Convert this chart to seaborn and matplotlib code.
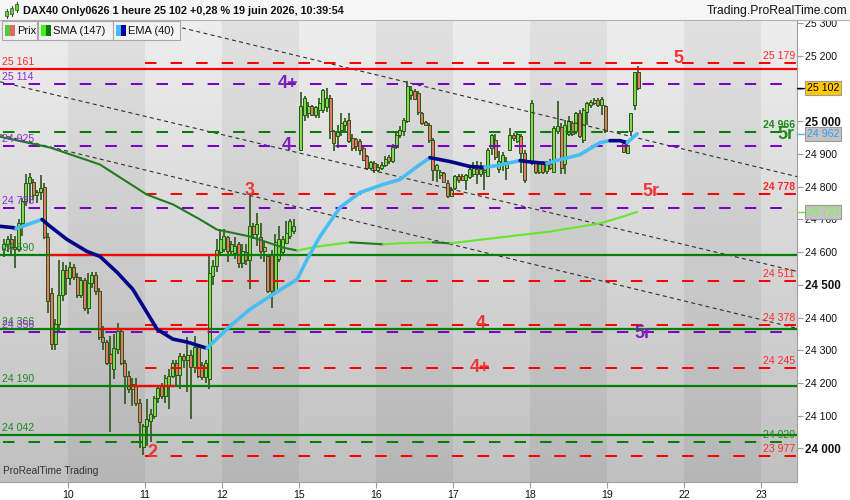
import numpy as np
import matplotlib
matplotlib.use("Agg")
import matplotlib.pyplot as plt
import matplotlib.transforms as mtransforms
from matplotlib.patches import Rectangle
from matplotlib.lines import Line2D
from matplotlib.colors import LinearSegmentedColormap
import seaborn as sns

sns.set_theme(style="white")
plt.rcParams['font.family'] = ['Liberation Sans', 'DejaVu Sans']

# ---------------- data ----------------
day_labels = ["9", "10", "11", "12", "15", "16", "17", "18", "19", "22", "23"]
bars_per_day = [18, 21, 21, 20, 21, 21, 20, 21, 5]
first_hour_slot = [3, 0, 0, 0, 0, 0, 0, 0, 4]
SLOTS_PER_DAY = 21

open_ = [
    # 9
    24610, 24625, 24640, 24615, 24610, 24690, 24755, 24810, 24815, 24775, 24785, 24800, 24645, 24476, 24320, 24380, 24470, 24545,
    # 10
    24520, 24555, 24525, 24470, 24515, 24430, 24505, 24530, 24480, 24340, 24325, 24290, 24242, 24303, 24359, 24262, 24222, 24181, 24191, 24140, 24005,
    # 11
    24069, 24085, 24100, 24155, 24190, 24160, 24195, 24222, 24262, 24225, 24283, 24270, 24285, 24250, 24310, 24255, 24217, 24211, 24527, 24557, 24600,
    # 12
    24610, 24645, 24603, 24598, 24624, 24568, 24600, 24575, 24680, 24655, 24645, 24603, 24588, 24590, 24480, 24578, 24600, 24629, 24650, 24665,
    # 15
    24913, 25020, 25025, 25046, 25020, 25035, 25035, 25045, 25070, 24969, 24955, 24975, 24990, 25005, 24950, 24945, 24940, 24918, 24893, 24857, 24873,
    # 16
    24852, 24858, 24865, 24890, 24880, 24923, 24959, 24970, 25000, 25080, 25092, 25086, 25025, 24998, 24990, 24944, 24852, 24835, 24842, 24812, 24771,
    # 17
    24796, 24832, 24832, 24822, 24830, 24840, 24855, 24840, 24852, 24832, 24918, 24944, 24855, 24873, 24858, 24913, 24959, 24940, 24954, 24903,
    # 18
    24873, 24873, 24845, 24873, 24848, 24870, 24846, 24970, 24984, 24870, 24960, 24995, 24969, 25025, 24944, 25030, 25050, 25056, 25066, 25050, 25046,
    # 19
    24934, 24903, 24969, 25051, 25152,
]
high = [
    24640, 24650, 24655, 24650, 24700, 24765, 24838, 24843, 24825, 24790, 24835, 24810, 24660, 24490, 24395, 24575, 24570, 24560,
    24570, 24565, 24535, 24525, 24520, 24535, 24540, 24540, 24490, 24375, 24330, 24345, 24349, 24382, 24365, 24270, 24235, 24215, 24215, 24150, 24075,
    24150, 24120, 24160, 24190, 24200, 24225, 24242, 24270, 24270, 24292, 24290, 24339, 24300, 24345, 24315, 24265, 24270, 24588, 24575, 24640, 24670,
    24670, 24650, 24635, 24645, 24630, 24625, 24625, 24772, 24690, 24720, 24690, 24630, 24595, 24608, 24655, 24680, 24650, 24695, 24700, 24702,
    25091, 25078, 25060, 25050, 25048, 25070, 25100, 25102, 25080, 24975, 24990, 25025, 25010, 25025, 24960, 24950, 24945, 24924, 24898, 24880, 24878,
    24870, 24875, 24895, 24898, 24930, 24965, 24985, 25010, 25122, 25108, 25098, 25092, 25030, 25000, 24995, 24950, 24870, 24850, 24845, 24820, 24800,
    24835, 24838, 24838, 24840, 24860, 24875, 24880, 24875, 24855, 24918, 24960, 24960, 24910, 24905, 24892, 24980, 24965, 24970, 24960, 24912,
    25065, 24880, 24880, 24878, 24880, 24885, 24985, 25061, 24995, 25005, 25015, 25000, 25030, 25035, 25040, 25060, 25065, 25070, 25070, 25075, 25050,
    24936, 24930, 25025, 25152, 25168,
]
low = [
    24585, 24600, 24595, 24553, 24600, 24650, 24740, 24750, 24760, 24750, 24760, 24640, 24415, 24300, 24300, 24360, 24450, 24470,
    24500, 24515, 24460, 24460, 24420, 24410, 24490, 24470, 24330, 24300, 24255, 24049, 24211, 24290, 24255, 24135, 24170, 24130, 24130, 24000, 23980,
    24008, 24018, 24090, 24140, 24150, 24140, 24120, 24215, 24190, 24180, 24245, 24171, 24089, 24230, 24215, 24210, 24200, 24181, 24500, 24540, 24590,
    24600, 24570, 24590, 24580, 24550, 24550, 24560, 24486, 24640, 24620, 24580, 24570, 24475, 24430, 24470, 24570, 24590, 24625, 24640, 24655,
    24908, 25000, 25010, 25015, 25010, 25010, 25025, 25030, 24945, 24908, 24920, 24954, 24970, 24935, 24910, 24908, 24898, 24880, 24852, 24850, 24842,
    24845, 24850, 24860, 24870, 24872, 24915, 24950, 24955, 24995, 25066, 25065, 25020, 24990, 24985, 24934, 24817, 24815, 24825, 24810, 24766, 24768,
    24790, 24810, 24820, 24790, 24825, 24830, 24808, 24830, 24791, 24832, 24898, 24883, 24842, 24848, 24820, 24908, 24940, 24935, 24842, 24812,
    24868, 24840, 24838, 24840, 24838, 24850, 24842, 24960, 24838, 24838, 24955, 24955, 24960, 24950, 24935, 24990, 25040, 25050, 25045, 25020, 24965,
    24903, 24900, 24954, 25035, 25095,
]
close = [
    24625, 24640, 24615, 24610, 24690, 24755, 24810, 24830, 24775, 24785, 24795, 24645, 24450, 24320, 24380, 24470, 24545, 24520,
    24555, 24525, 24470, 24515, 24430, 24505, 24530, 24480, 24340, 24325, 24262, 24262, 24308, 24359, 24262, 24222, 24181, 24196, 24140, 24079, 24069,
    24089, 24105, 24155, 24186, 24160, 24215, 24222, 24262, 24225, 24283, 24270, 24285, 24250, 24310, 24222, 24217, 24262, 24537, 24557, 24608, 24640,
    24650, 24603, 24625, 24620, 24568, 24605, 24575, 24680, 24655, 24685, 24603, 24615, 24481, 24480, 24630, 24639, 24640, 24660, 24695, 24680,
    25046, 25070, 25046, 25020, 25045, 25056, 25096, 25070, 24969, 24934, 24970, 24995, 25000, 24939, 24918, 24925, 24913, 24883, 24857, 24875, 24852,
    24860, 24868, 24885, 24880, 24923, 24959, 24975, 25005, 25107, 25096, 25068, 25030, 24995, 24990, 24944, 24852, 24865, 24845, 24815, 24771, 24791,
    24832, 24820, 24822, 24835, 24855, 24856, 24838, 24855, 24845, 24913, 24958, 24890, 24880, 24898, 24880, 24959, 24948, 24960, 24903, 24820,
    25055, 24845, 24873, 24845, 24870, 24858, 24979, 24985, 24857, 24990, 25000, 24960, 25025, 24954, 25035, 25055, 25060, 25066, 25050, 25068, 24969,
    24905, 24929, 25025, 25152, 25102,
]

# EMA(40) and SMA(147) (time in hourly slots)
ema_t = [2.45, 6.0, 6.8, 13.9, 16.1, 20.7, 26.2, 29.7, 34.4, 38.7, 42.5, 45.3, 49.6, 53.5, 58.9, 65.2,
         70.6, 76.9, 83.5, 86.2, 89.7, 95.2, 100.6, 106.9, 111.5, 116.2, 119.7, 125.2, 130.6, 134.7,
         138.0, 144.3, 146.2, 151.6, 155.2, 160.6, 166.1, 168.8, 171.5, 173.5, 176.2]
ema_v = [24679, 24675, 24672, 24700, 24679, 24639, 24602, 24587, 24538, 24486, 24416, 24364, 24334, 24325, 24306, 24374,
         24425, 24471, 24517, 24578, 24648, 24737, 24782, 24807, 24822, 24862, 24889, 24877, 24862, 24859,
         24865, 24880, 24877, 24871, 24883, 24898, 24935, 24941, 24941, 24935, 24962]
sma_t = [2.45, 16.1, 29.7, 42.5, 49.6, 57.0, 61.6, 70.6, 79.6, 83.5, 88.9, 97.9, 106.9, 111.5, 120.5,
         125.2, 138.8, 152.5, 166.1, 171.5, 176.2]
sma_v = [24953, 24920, 24868, 24776, 24746, 24700, 24669, 24648, 24614, 24605, 24617, 24630, 24624, 24627, 24630,
         24627, 24645, 24663, 24688, 24706, 24723]

# horizontal levels
solid_levels = [25161, 24590, 24366, 24190, 24042]
solid_base = ["red", "green", "green", "green", "green"]
solid_red_from = [None, 16.1, 29.7, 37.9, None]
solid_red_to = [None, 61.9, 59.7, 50.2, None]

dash_levels = [25179, 25114, 24966, 24925, 24778, 24735, 24511, 24378, 24356, 24245, 24020, 23977]
dash_kind = ["red", "purple", "green", "purple", "red", "purple", "red", "red", "purple", "red", "green", "red"]

left_labels = [25161, 25114, 24925, 24735, 24590, 24366, 24356, 24190, 24042]
left_kind = ["red", "purple", "purple", "purple", "green", "green", "purple", "green", "green"]
right_labels = [25179, 24966, 24778, 24511, 24378, 24245, 24020, 23977]
right_kind = ["red", "green", "red", "red", "red", "red", "green", "red"]
right_bold = [False, True, True, False, False, False, False, False]

# trend channel lines (time slot, price)
trend_t0 = [52.1, 2.45, 2.45]
trend_p0 = [25286, 25121, 24959]
trend_t1 = [219.8, 219.8, 219.8]
trend_p1 = [24831, 24541, 24367]

# wave labels
wave_txt = ["5", "4+", "4", "5r", "3", "5r", "4", "5r", "4+", "2"]
wave_t = [187.4, 81.0, 80.7, 216.9, 70.6, 180.0, 133.6, 177.8, 133.4, 44.0]
wave_p = [25191, 25117, 24927, 24959, 24788, 24787, 24381, 24352, 24248, 23986]
wave_kind = ["red", "purple", "purple", "green", "red", "red", "red", "purple", "red", "red"]

last_price, ema_last, sma_last = 25102, 24962, 24723

# ---------------- style ----------------
LINE_C = {"red": "#ff0000", "green": "#008000", "purple": "#7a00c8"}
TEXT_C = {"red": "#ff2a2a", "green": "#1f8a1f", "purple": "#8a2fd0"}
WAVE_C = {"red": "#ee3535", "green": "#1f8a1f", "purple": "#7a1fc0"}
XMIN, XMAX = 2.45, 219.8
YMIN, YMAX = 23897, 25310


def fmt(v):
    return f"{int(v):,}".replace(",", " ")


fig = plt.figure(figsize=(8.5, 5), dpi=100)
fig.patch.set_facecolor("white")
ax = fig.add_axes([0, 18 / 500, 797 / 850, 462 / 500])

# background gradient + alternating day bands
grad = np.linspace(0, 1, 256).reshape(-1, 1)
cmap = LinearSegmentedColormap.from_list("bg", ["#c0c0c0", "#eeeeee"])
ax.imshow(grad, extent=[XMIN, XMAX, YMIN, YMAX], aspect="auto", cmap=cmap,
          origin="lower", zorder=0, interpolation="bilinear")
for k, d in enumerate(day_labels):
    if int(d) % 2 == 0:
        ax.axvspan(SLOTS_PER_DAY * k, SLOTS_PER_DAY * (k + 1), color="black", alpha=0.05, lw=0, zorder=0.5)

# candles
slots = []
for k, (n, f) in enumerate(zip(bars_per_day, first_hour_slot)):
    slots += [SLOTS_PER_DAY * k + f + j + 0.5 for j in range(n)]
slots = np.array(slots)
o = np.array(open_); h = np.array(high); l = np.array(low); c = np.array(close)
edge = "#2b5516"
ax.vlines(slots, l, h, color=edge, lw=1.2, zorder=3)
bottoms = np.minimum(o, c)
heights = np.maximum(np.abs(c - o), 2.5)
fills = np.where(c >= o, "#7ddc52", "#e57a6c")
ax.bar(slots, heights, bottom=bottoms, width=0.8, color=fills, edgecolor=edge, linewidth=0.7, zorder=4)

# trend lines
for t0, p0, t1, p1 in zip(trend_t0, trend_p0, trend_t1, trend_p1):
    ax.plot([t0, t1], [p0, p1], color="#303030", lw=0.8, linestyle=(0, (3.6, 3.0)), zorder=5)

# solid levels
for lv, base, rf, rt in zip(solid_levels, solid_base, solid_red_from, solid_red_to):
    ax.plot([XMIN, XMAX], [lv, lv], color=LINE_C[base], lw=1.6, zorder=5.2, solid_capstyle="butt")
    if rf is not None:
        ax.plot([rf, rt], [lv, lv], color=LINE_C["red"], lw=1.6, zorder=5.3, solid_capstyle="butt")

# dashed levels
for lv, kind in zip(dash_levels, dash_kind):
    start = SLOTS_PER_DAY * 2 if kind == "red" else XMIN + 0.8
    end = XMAX if kind == "red" else XMAX - 1.0
    ax.plot([start, end], [lv, lv], color=LINE_C[kind], lw=1.45,
            linestyle=(0, (5.7, 7.0)), zorder=5.1, dash_capstyle="butt")


# moving averages, coloured by direction
def draw_ma(t, v, up_c, down_c, lw, z):
    t = np.asarray(t); v = np.asarray(v)
    start = 0
    cur = v[1] > v[0]
    pieces = []
    for i in range(1, len(v) - 1):
        r = v[i + 1] > v[i]
        if r != cur:
            pieces.append((start, i, cur))
            start, cur = i, r
    pieces.append((start, len(v) - 1, cur))
    for a, b, up in pieces:
        sns.lineplot(x=t[a:b + 1], y=v[a:b + 1], color=up_c if up else down_c, lw=lw, ax=ax,
                     sort=False, estimator=None, legend=False, zorder=z, solid_capstyle="round")


draw_ma(sma_t, sma_v, "#66e62a", "#1e7d1e", 1.5, 6)
draw_ma(ema_t, ema_v, "#48bdf5", "#05058a", 2.6, 6.5)

# labels on levels
for lv, kind in zip(left_labels, left_kind):
    ax.annotate(fmt(lv), xy=(XMIN, lv), xytext=(1.5, 1.5), textcoords="offset points",
                ha="left", va="bottom", fontsize=7.6, color=TEXT_C[kind], zorder=7)
for lv, kind, b in zip(right_labels, right_kind, right_bold):
    ax.annotate(fmt(lv), xy=(XMAX, lv), xytext=(-1.5, 1.5), textcoords="offset points",
                ha="right", va="bottom", fontsize=7.6, color=TEXT_C[kind], zorder=7,
                fontweight="bold" if b else "normal")

for txt, t, p, kind in zip(wave_txt, wave_t, wave_p, wave_kind):
    ax.text(t, p, txt, color=WAVE_C[kind], fontsize=13, fontweight="bold",
            ha="center", va="center", zorder=8)

ax.text(0.004, 0.013, "ProRealTime Trading", transform=ax.transAxes, fontsize=7.3,
        color="#333333", ha="left", va="bottom", zorder=8)

# axes
ax.set_xlim(XMIN, XMAX)
ax.set_ylim(YMIN, YMAX)
yt = list(range(24000, 25400, 100))
ax.set_yticks(yt, labels=[fmt(v) for v in yt])
ax.yaxis.tick_right()
ax.tick_params(axis="y", right=True, left=False, length=4, width=0.8, color="#9a9a9a",
               labelsize=7.6, pad=2, labelcolor="#111111")
for lbl, v in zip(ax.get_yticklabels(), yt):
    if v % 500 == 0:
        lbl.set_fontweight("bold")
        lbl.set_fontsize(8.4)
xt = [SLOTS_PER_DAY * k for k in range(1, len(day_labels))]
ax.set_xticks(xt, labels=day_labels[1:])
ax.tick_params(axis="x", bottom=True, length=4, width=0.8, color="#9a9a9a",
               labelsize=7.6, pad=1.5, labelcolor="#111111")
for s in ["top", "left"]:
    ax.spines[s].set_visible(False)
for s in ["right", "bottom"]:
    ax.spines[s].set_color("#a0a0a0")
    ax.spines[s].set_linewidth(0.8)
ax.grid(False)

# price boxes on the axis
trans = mtransforms.blended_transform_factory(ax.transAxes, ax.transData)
for txt_v, fc, tc, lc in [(last_price, "#ffc800", "#000000", "#000000"),
                          (ema_last, "#c4c4c4", "#3a9cf0", "#48bdf5"),
                          (sma_last, "#c4c4c4", "#6cff2a", "#66e62a")]:
    ax.plot([1.0, 1.009], [txt_v, txt_v], transform=trans, color=lc, lw=1.0, clip_on=False, zorder=9)
    ax.annotate(fmt(txt_v), xy=(1.0, txt_v), xycoords=trans, xytext=(7.0, 0), textcoords="offset points",
                ha="left", va="center", fontsize=7.7, color=tc, annotation_clip=False, zorder=10,
                bbox=dict(boxstyle="square,pad=0.18", fc=fc, ec="#9a9a9a", lw=0.8))


# ---------------- header & legend ----------------
def fx(px):
    return px / 850


def fy(py):
    return 1 - py / 500


fig.add_artist(Rectangle((0, fy(20)), 1, 20 / 500, transform=fig.transFigure, fc="#f6f6f6", ec="none", zorder=1))
fig.add_artist(Line2D([0, 1], [fy(20), fy(20)], transform=fig.transFigure, color="#b0b0b0", lw=0.8, zorder=2))
# small candlestick icon
for x0, top, bot, wt, wb in [(5, 11, 16, 9, 18), (10, 8, 14, 6, 16), (15, 4, 10, 2, 12)]:
    fig.add_artist(Line2D([fx(x0 + 1.5)] * 2, [fy(wt), fy(wb)], transform=fig.transFigure,
                          color="#2b5516", lw=0.8, zorder=2))
    fig.add_artist(Rectangle((fx(x0), fy(bot)), 3 / 850, (bot - top) / 500, transform=fig.transFigure,
                             fc="#66cc44", ec="#2b5516", lw=0.5, zorder=3))
fig.text(fx(23), fy(11), "DAX40 Only0626 1 heure 25 102 +0,28 % 19 juin 2026, 10:39:54",
         fontsize=7.8, fontweight="bold", color="#111111", ha="left", va="center", zorder=3)
fig.text(fx(847), fy(11), "Trading.ProRealTime.com", fontsize=8.7, color="#111111",
         ha="right", va="center", zorder=3)

legend_items = [("Prix", 1.5, 37, "#55c83a", "#e06a62"),
                ("SMA (147)", 37.5, 112.5, "#44ee11", "#0a7a0a"),
                ("EMA (40)", 113, 180, "#44bbff", "#000099")]
for name, x0, x1, c1, c2 in legend_items:
    fig.add_artist(Rectangle((fx(x0), fy(39.5)), (x1 - x0) / 850, 18 / 500, transform=fig.transFigure,
                             fc="#f3f3f3", ec="#a8a8a8", lw=0.8, zorder=4))
    fig.add_artist(Rectangle((fx(x0 + 3), fy(36)), 5 / 850, 11 / 500, transform=fig.transFigure,
                             fc=c1, ec="none", zorder=5))
    fig.add_artist(Rectangle((fx(x0 + 8), fy(36)), 5 / 850, 11 / 500, transform=fig.transFigure,
                             fc=c2, ec="none", zorder=5))
    fig.text(fx(x0 + 15.5), fy(30.5), name, fontsize=8, color="#111111", ha="left", va="center", zorder=6)

fig.savefig("out.png", dpi=100, facecolor="white")
